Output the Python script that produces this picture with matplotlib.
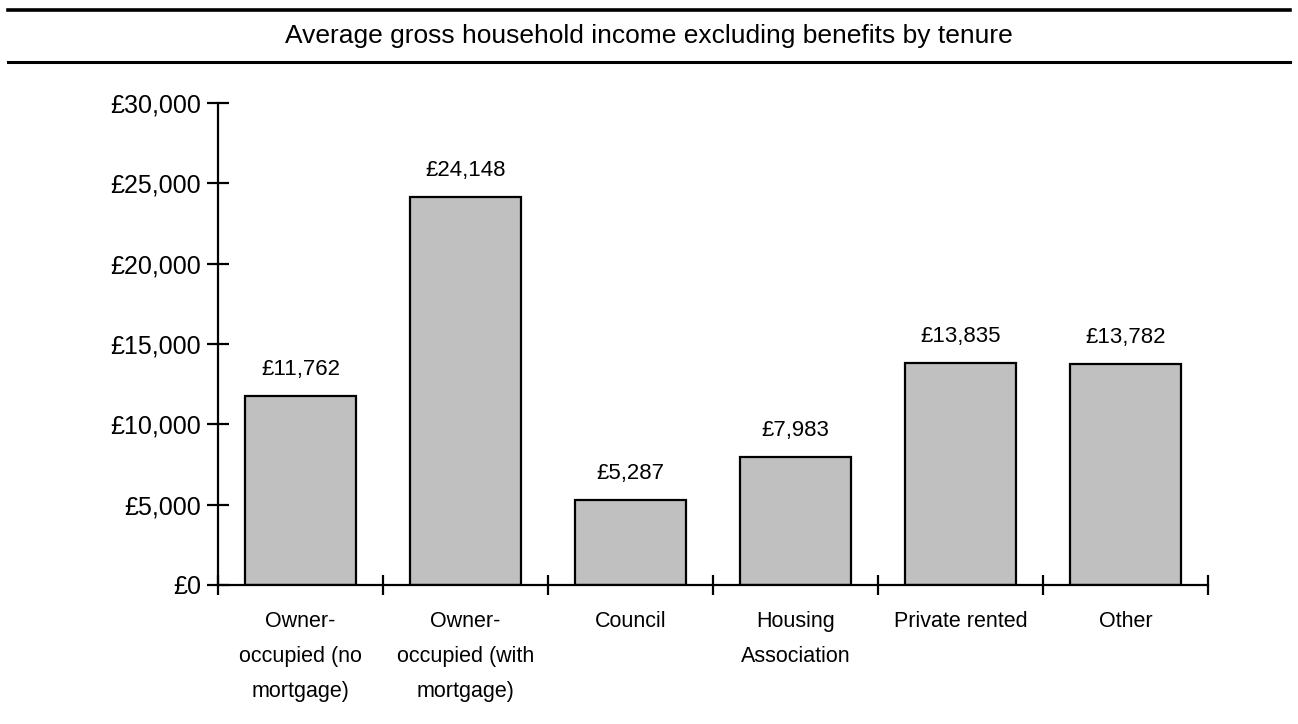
import matplotlib
matplotlib.use("Agg")
import matplotlib.pyplot as plt
from matplotlib.lines import Line2D
from matplotlib.ticker import FuncFormatter, MultipleLocator, FixedLocator
import numpy as np

categories = ["Owner-\noccupied (no\nmortgage)", "Owner-\noccupied (with\nmortgage)", "Council",
              "Housing\nAssociation", "Private rented", "Other"]
values = [11762, 24148, 5287, 7983, 13835, 13782]
title = "Average gross household income excluding benefits by tenure"

plt.rcParams['font.family'] = ['Liberation Sans', 'DejaVu Sans']

fig = plt.figure(figsize=(12.98, 7.24), dpi=100)
ax = fig.add_axes([218/1298, 1-585/724, 990/1298, 482/724])

x = np.arange(len(values))
ax.bar(x, values, width=0.667, color="#c0c0c0", edgecolor="black", linewidth=1.6, zorder=2)
for xi, v in zip(x, values):
    ax.annotate("£{:,}".format(v), (xi, v), xytext=(0, 15), textcoords="offset points",
                ha="center", va="baseline", fontsize=16)

ax.set_xlim(-0.5, len(values) - 0.5)
ax.set_ylim(0, 30000)
ax.yaxis.set_major_locator(MultipleLocator(5000))
ax.yaxis.set_major_formatter(FuncFormatter(lambda v, p: "£{:,}".format(int(v))))
ax.xaxis.set_major_locator(FixedLocator(np.arange(-0.5, len(values))))
ax.xaxis.set_major_formatter(FuncFormatter(lambda v, p: ""))
ax.set_xticks(x, minor=True)
ax.set_xticklabels(categories, minor=True, linespacing=1.85)
ax.tick_params(axis="x", which="minor", length=0, pad=19, labelsize=15.5)
ax.tick_params(axis="x", which="major", direction="inout", length=14, width=1.6)
ax.tick_params(axis="y", which="major", direction="inout", length=16, width=1.6, labelsize=18, pad=4)
for s in ["top", "right"]:
    ax.spines[s].set_visible(False)
for s in ["left", "bottom"]:
    ax.spines[s].set_linewidth(1.6)

fig.add_artist(Line2D([8/1298, 1290/1298], [1-10/724, 1-10/724], color="black", linewidth=2.6))
fig.add_artist(Line2D([8/1298, 1290/1298], [1-62/724, 1-62/724], color="black", linewidth=2.2))
fig.text(0.5, 1-36/724, title, ha="center", va="center", fontsize=19)

fig.savefig("out.png", dpi=100)
